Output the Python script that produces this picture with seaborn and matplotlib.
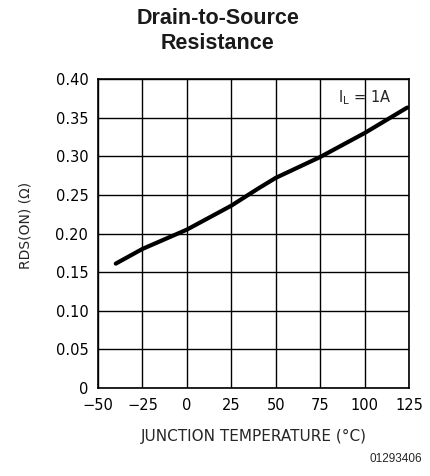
import numpy as np
import pandas as pd
import matplotlib
matplotlib.use("Agg")
import matplotlib.pyplot as plt
import seaborn as sns

# ==============================
# Data
# ==============================

temp_c = [-40, -25, 0, 25, 40, 50, 75, 100, 124]
rds_on = [0.161, 0.180, 0.205, 0.236, 0.258, 0.272, 0.299, 0.330, 0.363]

x_ticks = [-50, -25, 0, 25, 50, 75, 100, 125]
x_tick_labels = ["\u221250", "\u221225", "0", "25", "50", "75", "100", "125"]
y_ticks = [0, 0.05, 0.10, 0.15, 0.20, 0.25, 0.30, 0.35, 0.40]
y_tick_labels = ["0", "0.05", "0.10", "0.15", "0.20", "0.25", "0.30", "0.35", "0.40"]

df = pd.DataFrame({"temp": temp_c, "rds": rds_on})

sns.set_style("white")
plt.rcParams["font.family"] = ["DejaVu Sans"]

fig = plt.figure(figsize=(4.31, 4.76), dpi=100)
ax = fig.add_axes([98 / 431, 88 / 476, 311 / 431, 309 / 476])

sns.lineplot(data=df, x="temp", y="rds", ax=ax, color="black", linewidth=3.0)

ax.set_xlim(-50, 125)
ax.set_ylim(0, 0.40)
ax.set_xticks(x_ticks)
ax.set_xticklabels(x_tick_labels)
ax.set_yticks(y_ticks)
ax.set_yticklabels(y_tick_labels)
ax.grid(True, color="black", linewidth=1.0)
ax.tick_params(length=0, labelsize=10.5, pad=7, colors="black")
for s in ax.spines.values():
    s.set_color("black")
    s.set_linewidth(1.2)

ax.set_xlabel("JUNCTION TEMPERATURE (\u00b0C)", fontsize=11, labelpad=12)
ax.set_ylabel("RDS(ON) (\u03a9)", fontsize=10)
ax.yaxis.set_label_coords(-0.21, 0.527)

ax.text(100, 0.376, r"$\mathregular{I_L}$ = 1A", fontsize=10.5, ha="center", va="center")

fig.text(0.505, 1 - 31 / 476, "Drain-to-Source\nResistance", ha="center", va="center",
         fontsize=15.5, fontweight="bold", family="Liberation Sans", color="#1a1a1a",
         linespacing=1.25)
fig.text(422 / 431, 1 - 459 / 476, "01293406", ha="right", va="center",
         fontsize=8.5, family="Liberation Sans")

fig.savefig("out.png", dpi=100)
